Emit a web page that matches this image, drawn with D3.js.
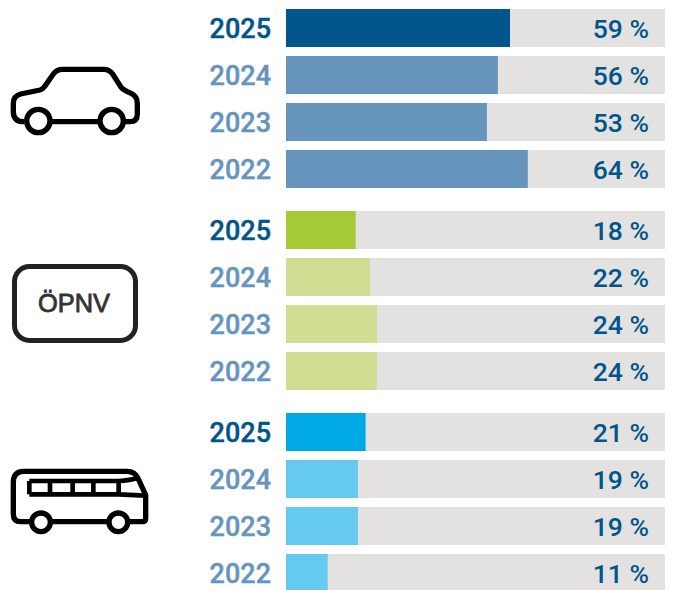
<!DOCTYPE html>
<html>
<head>
<meta charset="utf-8">
<script src="https://cdn.jsdelivr.net/npm/d3@7"></script>
<style>
  html, body { margin: 0; padding: 0; background: #fff; overflow: hidden; }
  svg { display: block; }
</style>
</head>
<body>
<div id="chart"></div>
<script>
// data, bar lengths (labels show them rounded)
const modes = ["Auto", "ÖPNV", "Bus"];
const years = ["2025", "2024", "2023", "2022"];
const autoValues = [59.1, 55.9, 53, 63.8];
const oepnvValues = [18.4, 22.2, 24, 24];
const busValues = [21, 19, 19, 11];
const strongColors = ["#00558a", "#a6c936", "#00a8e6"];
const paleColors = ["#6694bd", "#d0de94", "#66c9f0"];

const seriesValues = [autoValues, oepnvValues, busValues];

const width = 673, height = 590;
const svg = d3.select("#chart").append("svg")
    .attr("width", width)
    .attr("height", height);

// scales
const x = d3.scaleLinear().domain([0, 100]).range([286, 665]);
const groupY = d3.scaleBand().domain(modes).range([9, 615]);
const rowY = d3.scaleBand().domain(years).range([0, 179]).paddingInner(9 / 47);

const groups = svg.selectAll("g.group")
    .data(modes)
    .join("g")
    .attr("class", "group")
    .attr("transform", d => `translate(0,${groupY(d)})`);

const rows = groups.selectAll("g.row")
    .data((mode, i) => years.map((year, j) => ({ year, value: seriesValues[i][j], i, j })))
    .join("g")
    .attr("class", "row")
    .attr("transform", d => `translate(0,${rowY(d.year)})`);

// grey track
rows.append("rect")
    .attr("x", x(0))
    .attr("width", x(100) - x(0))
    .attr("height", rowY.bandwidth())
    .attr("fill", "#e3e2e1");

// value bar
rows.append("rect")
    .attr("x", x(0))
    .attr("width", d => x(d.value) - x(0))
    .attr("height", rowY.bandwidth())
    .attr("fill", d => d.j === 0 ? strongColors[d.i] : paleColors[d.i]);

// year labels
rows.append("text")
    .attr("x", 271)
    .attr("y", rowY.bandwidth() / 2 + 0.3)
    .attr("dy", "0.36em")
    .attr("text-anchor", "end")
    .style("font", "500 27px Roboto")
    .attr("stroke", d => d.j === 0 ? "#00558a" : "#6694bd")
    .attr("stroke-width", 0.4)
    .attr("fill", d => d.j === 0 ? "#00558a" : "#6694bd")
    .text(d => d.year);

// value labels
rows.append("text")
    .attr("x", 649)
    .attr("y", rowY.bandwidth() / 2 + 0.3)
    .attr("dy", "0.36em")
    .attr("text-anchor", "end")
    .style("font", "500 26.5px Roboto")
    .attr("fill", "#00558a")
    .text(d => `${Math.round(d.value)} %`);

// icons, traced at 3x and scaled down
const icon = (dx, dy) => svg.append("g")
    .attr("transform", `translate(${dx},${dy}) scale(${1 / 3})`)
    .attr("fill", "none")
    .attr("stroke", "#000")
    .attr("stroke-width", 16)
    .attr("stroke-linejoin", "round");

const car = icon(0, 50);
car.append("path").attr("d",
    "M72,215 Q40,215 40,185 L40,160 Q40,138 62,132 L120,120 Q128,118 135,108 L160,72 Q170,58 187,58 " +
    "L312,58 Q328,58 338,72 L362,110 Q368,119 380,124 L395,131 Q412,140 412,160 L412,192 Q412,215 390,215 L375,215 " +
    "M155,215 L295,215");
[115, 335].forEach(cx => car.append("circle").attr("cx", cx).attr("cy", 213).attr("r", 35));

const bus = icon(0, 455);
bus.append("path").attr("d",
    "M90,200 L62,200 Q40,200 40,178 L40,82 Q40,49 72,49 L382,49 Q405,49 415,72 L437,120 L437,190 Q437,200 427,200 L385,200 " +
    "M155,200 L325,200");
bus.append("path").attr("stroke-width", 14).attr("d",
    "M88,78 L355,78 M88,118 L355,118 M88,78 L88,118 M150,78 L150,118 M218,78 L218,118 M280,78 L280,118 M356,78 L356,118 " +
    "M355,78 Q390,76 415,68 M355,118 L437,122");
[123, 355].forEach(cx => bus.append("circle").attr("cx", cx).attr("cy", 202).attr("r", 28));

svg.append("rect")
    .attr("x", 14.5).attr("y", 266.5)
    .attr("width", 121).attr("height", 74)
    .attr("rx", 15)
    .attr("fill", "none")
    .attr("stroke", "#222")
    .attr("stroke-width", 5)
;

svg.append("text")
    .attr("x", 74).attr("y", 312)
    .attr("text-anchor", "middle")
    .style("font", "400 25.4px 'Liberation Sans'")
    .attr("stroke", "#333")
    .attr("stroke-width", 0.8)
    .attr("fill", "#333")
    .text("ÖPNV");
</script>
</body>
</html>
